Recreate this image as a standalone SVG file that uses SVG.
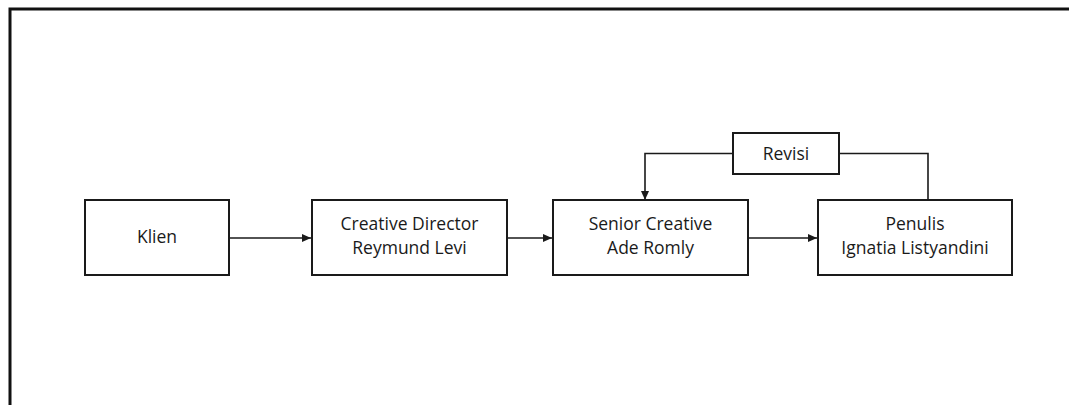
<svg xmlns="http://www.w3.org/2000/svg" width="1069" height="405" viewBox="0 0 1069 405">
<style>
.box{fill:#fff;stroke:#1a1a1a;stroke-width:2}
.ln{fill:none;stroke:#1a1a1a;stroke-width:1.6}
text{font-family:"Open Sans","Noto Sans",sans-serif;font-size:17.5px;fill:#1a1a1a;text-anchor:middle}
</style>
<defs>
<marker id="ah" markerWidth="10" markerHeight="10" refX="9" refY="5" orient="auto" markerUnits="userSpaceOnUse">
<path d="M0,1 L9,5 L0,9 Z" fill="#1a1a1a"/>
</marker>
</defs>
<rect width="1069" height="405" fill="#fff"/>
<path d="M10,405 V9 H1069" fill="none" stroke="#111" stroke-width="3"/>
<g id="connectors">
<line class="ln" x1="229" y1="238" x2="311" y2="238" marker-end="url(#ah)"/>
<line class="ln" x1="507" y1="238" x2="552" y2="238" marker-end="url(#ah)"/>
<line class="ln" x1="748" y1="238" x2="817" y2="238" marker-end="url(#ah)"/>
<path class="ln" d="M733,153.5 H645 V200" marker-end="url(#ah)"/>
<path class="ln" d="M839,153.5 H928 V200"/>
</g>
<g id="klien">
<rect class="box" x="85" y="200" width="144" height="75"/>
<text x="157" y="243">Klien</text>
</g>
<g id="creative-director">
<rect class="box" x="312" y="200" width="195" height="75"/>
<text x="409.5" y="229.5">Creative Director</text>
<text x="409.5" y="253.5">Reymund Levi</text>
</g>
<g id="senior-creative">
<rect class="box" x="553" y="200" width="195" height="75"/>
<text x="650.5" y="229.5">Senior Creative</text>
<text x="650.5" y="253.5">Ade Romly</text>
</g>
<g id="penulis">
<rect class="box" x="818" y="200" width="194" height="75"/>
<text x="915" y="229.5">Penulis</text>
<text x="915" y="253.5">Ignatia Listyandini</text>
</g>
<g id="revisi">
<rect class="box" x="733" y="133" width="106" height="41"/>
<text x="786" y="160">Revisi</text>
</g>
</svg>
